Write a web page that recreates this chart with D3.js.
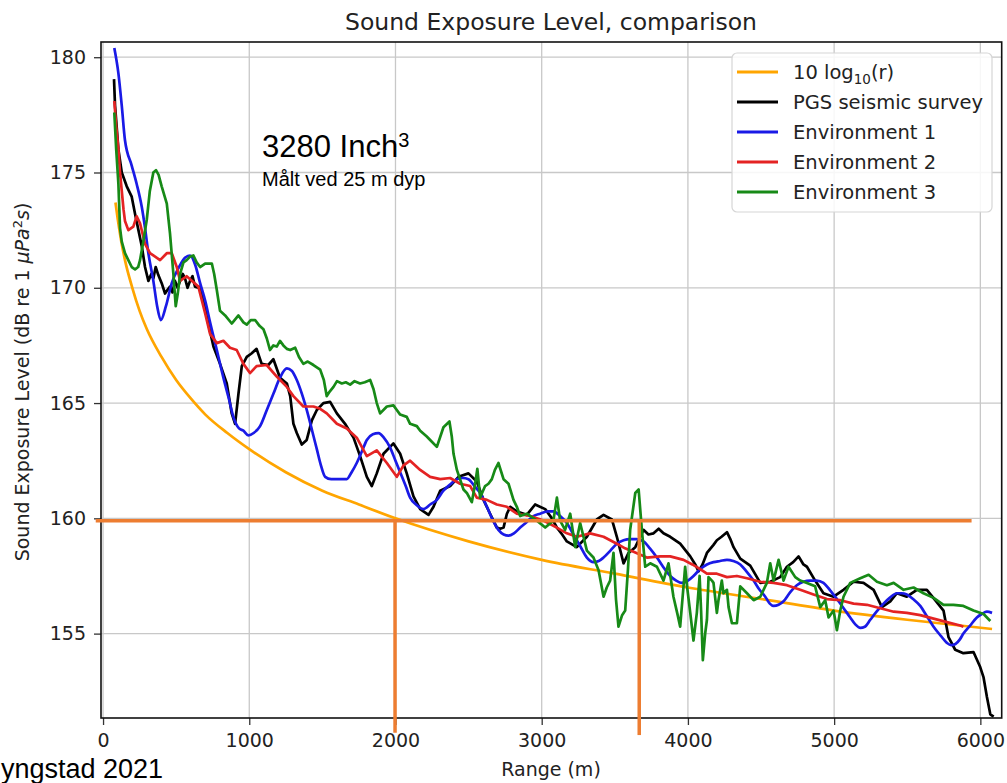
<!DOCTYPE html>
<html>
<head>
<meta charset="utf-8">
<script src="https://cdn.jsdelivr.net/npm/d3@7"></script>
<style>
    body { margin: 0; background: #fff; }
    svg { display: block; font-family: "DejaVu Sans", sans-serif; }
    .grid line { stroke: #c8c8c8; stroke-width: 1.3; }
    .axis path { display: none; }
    .axis line { stroke: #333; stroke-width: 1.3; }
    .axis text { fill: #222; font-size: 19px; font-family: "DejaVu Sans", sans-serif; }
    .line { fill: none; stroke-width: 2.7; stroke-linejoin: round; }
    .mark { stroke: #ED7D31; stroke-width: 3.5; }
</style>
</head>
<body>
<div id="graph"></div>
<script>
// ranges in m, levels in dB
var xTicks = [0, 1000, 2000, 3000, 4000, 5000, 6000];
var yTicks = [155, 160, 165, 170, 175, 180];

var seriesNames = ["10 log10(r)", "PGS seismic survey", "Environment 1", "Environment 2", "Environment 3"];

var logRange = [85, 100, 125, 150, 200, 250, 300, 400, 500, 600, 700, 850, 1000, 1250, 1500, 1750, 2000, 2500, 3000, 3500, 4000, 4500, 5000, 5500, 6080];
var logLevel = [173.7, 173.0, 172.0, 171.2, 170.0, 169.0, 168.2, 167.0, 166.0, 165.2, 164.5, 163.7, 163.0, 162.0, 161.2, 160.6, 160.0, 159.0, 158.2, 157.6, 157.0, 156.5, 156.0, 155.6, 155.2];

var pgsRange = [75, 82, 105, 128, 162, 196, 219, 242, 265, 287, 310, 330, 344, 360, 378, 401, 424, 440, 458, 475, 492, 510, 527, 545, 561, 578, 595, 612, 629, 652, 664, 709, 755, 800, 846, 880, 903, 926, 949, 983, 1015, 1050, 1085, 1130, 1165, 1210, 1257, 1280, 1302, 1325, 1359, 1393, 1428, 1462, 1507, 1553, 1599, 1655, 1713, 1758, 1804, 1838, 1872, 1918, 1986, 2032, 2077, 2123, 2169, 2226, 2260, 2306, 2374, 2431, 2499, 2556, 2602, 2647, 2693, 2716, 2739, 2762, 2785, 2830, 2898, 2955, 3024, 3070, 3104, 3140, 3172, 3240, 3309, 3377, 3423, 3480, 3514, 3560, 3594, 3640, 3696, 3730, 3765, 3800, 3833, 3879, 3947, 4016, 4050, 4073, 4100, 4130, 4175, 4198, 4230, 4267, 4290, 4312, 4358, 4426, 4495, 4563, 4631, 4677, 4720, 4757, 4790, 4814, 4870, 4927, 4996, 5064, 5133, 5201, 5270, 5327, 5384, 5429, 5497, 5566, 5634, 5691, 5748, 5782, 5828, 5884, 5953, 5999, 6022, 6045, 6068, 6091];
var pgsLevel = [179.05, 177.9, 176.0, 175.0, 174.4, 173.95, 173.2, 172.5, 171.8, 170.9, 170.3, 170.6, 170.4, 170.9, 170.55, 170.2, 169.75, 169.9, 170.05, 169.8, 170.3, 170.0, 170.3, 170.6, 170.4, 170.0, 170.3, 170.5, 170.05, 170.0, 170.05, 168.75, 167.45, 166.7, 165.85, 164.55, 164.1, 165.4, 166.6, 167.0, 167.15, 167.35, 166.7, 166.65, 166.9, 166.1, 165.85, 165.3, 164.1, 163.7, 163.2, 163.4, 164.25, 164.7, 165.0, 165.05, 164.55, 164.1, 163.5, 162.7, 161.8, 161.4, 161.95, 162.8, 163.25, 162.8, 161.95, 160.95, 160.4, 160.15, 160.5, 161.2, 161.4, 161.8, 161.95, 161.6, 160.8, 160.2, 159.6, 159.55, 159.6, 160.2, 160.5, 160.3, 160.15, 160.6, 160.4, 160.0, 159.6, 159.3, 159.0, 158.75, 159.2, 159.95, 160.15, 159.95, 159.2, 158.05, 158.5, 158.75, 159.5, 159.3, 159.35, 159.55, 159.35, 159.2, 158.9, 158.35, 158.0, 157.7, 158.0, 158.5, 158.85, 159.05, 159.2, 159.4, 159.1, 158.75, 158.25, 157.95, 157.2, 157.25, 157.45, 157.9, 158.1, 158.35, 158.0, 157.9, 157.3, 156.75, 156.6, 156.9, 157.25, 157.2, 156.9, 156.15, 156.4, 156.75, 156.6, 156.9, 156.9, 156.45, 156.0, 154.85, 154.3, 154.15, 154.2, 153.55, 153.1, 152.25, 151.5, 151.4];

var env1Range = [77, 105, 128, 150, 196, 230, 265, 287, 310, 344, 370, 395, 430, 470, 520, 560, 595, 630, 664, 700, 732, 778, 823, 860, 891, 930, 960, 994, 1030, 1074, 1120, 1165, 1210, 1257, 1290, 1325, 1360, 1393, 1430, 1462, 1490, 1519, 1560, 1599, 1640, 1667, 1700, 1735, 1770, 1804, 1845, 1884, 1920, 1961, 2000, 2032, 2070, 2100, 2140, 2191, 2237, 2283, 2328, 2380, 2420, 2460, 2499, 2540, 2579, 2625, 2660, 2704, 2740, 2773, 2810, 2853, 2900, 2944, 2990, 3040, 3080, 3126, 3172, 3217, 3263, 3309, 3354, 3390, 3423, 3470, 3514, 3560, 3605, 3650, 3696, 3740, 3788, 3830, 3879, 3920, 3959, 4000, 4038, 4084, 4130, 4175, 4220, 4267, 4310, 4358, 4400, 4449, 4490, 4529, 4560, 4586, 4620, 4654, 4700, 4745, 4790, 4836, 4880, 4927, 4970, 5019, 5065, 5110, 5145, 5179, 5210, 5247, 5290, 5338, 5380, 5429, 5460, 5497, 5540, 5589, 5630, 5680, 5730, 5771, 5800, 5830, 5860, 5884, 5930, 5976, 6010, 6045, 6080];
var env1Level = [180.4, 179.3, 177.9, 176.4, 175.3, 174.5, 173.5, 172.6, 171.5, 170.3, 169.2, 168.6, 169.2, 170.2, 170.9, 171.3, 171.4, 171.0, 170.2, 169.4, 168.5, 167.3, 166.1, 165.2, 164.4, 163.9, 163.8, 163.6, 163.7, 164.0, 164.7, 165.4, 166.1, 166.5, 166.4, 166.0, 165.4, 164.7, 163.8, 163.0, 162.3, 161.8, 161.7, 161.7, 161.7, 161.7, 162.0, 162.4, 162.9, 163.4, 163.65, 163.7, 163.5, 163.1, 162.5, 162.0, 161.4, 160.9, 160.6, 160.4, 160.6, 160.8, 161.2, 161.5, 161.7, 161.75, 161.7, 161.4, 161.1, 160.5, 160.0, 159.5, 159.3, 159.25, 159.35, 159.6, 159.85, 160.1, 160.2, 160.3, 160.3, 160.1, 159.8, 159.3, 158.8, 158.3, 158.1, 158.15, 158.3, 158.6, 158.9, 159.05, 159.1, 159.1, 159.0, 158.7, 158.3, 157.9, 157.5, 157.3, 157.2, 157.3, 157.5, 157.8, 158.0, 158.1, 158.15, 158.2, 158.15, 158.0, 157.7, 157.3, 156.9, 156.6, 156.3, 156.2, 156.25, 156.4, 156.8, 157.1, 157.25, 157.3, 157.3, 157.2, 156.9, 156.5, 156.1, 155.7, 155.4, 155.25, 155.3, 155.6, 155.95, 156.3, 156.55, 156.75, 156.75, 156.7, 156.5, 156.2, 155.8, 155.3, 154.9, 154.6, 154.5, 154.55, 154.75, 155.0, 155.35, 155.7, 155.85, 155.95, 155.9];

var env2Range = [77, 90, 105, 116, 128, 140, 150, 173, 207, 230, 253, 287, 321, 356, 390, 436, 470, 504, 527, 572, 607, 652, 698, 732, 778, 823, 868, 914, 960, 1005, 1050, 1119, 1188, 1257, 1302, 1370, 1439, 1485, 1530, 1599, 1667, 1735, 1804, 1872, 1941, 2009, 2055, 2100, 2169, 2237, 2306, 2374, 2442, 2511, 2556, 2625, 2693, 2762, 2830, 2921, 3012, 3103, 3172, 3240, 3331, 3423, 3514, 3570, 3628, 3719, 3810, 3879, 3970, 4030, 4084, 4130, 4198, 4267, 4335, 4404, 4495, 4586, 4677, 4768, 4859, 4951, 5042, 5133, 5224, 5316, 5407, 5497, 5589, 5680, 5771, 5862, 5884];
var env2Level = [178.1, 177.0, 176.0, 175.0, 174.2, 173.4, 172.9, 172.5, 172.65, 173.1, 172.8, 171.9, 171.5, 171.35, 171.2, 171.5, 171.5, 170.9, 170.3, 170.5, 170.3, 170.05, 168.9, 168.0, 167.6, 167.7, 167.4, 167.3, 166.7, 166.3, 166.6, 166.65, 166.15, 165.7, 165.3, 164.85, 164.85, 164.75, 164.55, 164.1, 163.9, 163.5, 162.7, 162.95, 162.4, 161.8, 162.3, 162.5, 162.1, 161.8, 161.7, 161.75, 161.5, 161.4, 160.9, 160.8, 160.6, 160.5, 160.2, 160.1, 159.9, 159.6, 159.35, 159.2, 159.35, 159.2, 158.9, 158.7, 158.55, 158.3, 158.35, 158.35, 158.2, 158.0, 157.8, 157.6, 157.6, 157.45, 157.5, 157.4, 157.25, 157.2, 157.1, 156.9, 156.7, 156.5, 156.45, 156.3, 156.25, 156.1, 155.95, 155.9, 155.8, 155.65, 155.5, 155.35, 155.3];

var env3Range = [77, 90, 105, 116, 128, 150, 173, 196, 219, 240, 253, 275, 299, 320, 344, 362, 380, 401, 436, 458, 481, 497, 511, 527, 550, 572, 595, 618, 640, 664, 698, 744, 760, 778, 800, 835, 880, 926, 960, 983, 1010, 1040, 1070, 1097, 1120, 1142, 1165, 1188, 1210, 1233, 1257, 1280, 1314, 1340, 1370, 1400, 1439, 1485, 1510, 1530, 1550, 1576, 1600, 1633, 1660, 1690, 1720, 1758, 1790, 1827, 1850, 1872, 1895, 1941, 1986, 2009, 2032, 2077, 2100, 2146, 2169, 2214, 2237, 2283, 2328, 2369, 2385, 2397, 2420, 2465, 2488, 2522, 2545, 2560, 2579, 2613, 2636, 2659, 2680, 2704, 2739, 2773, 2807, 2830, 2853, 2898, 2967, 3024, 3080, 3104, 3126, 3160, 3195, 3229, 3263, 3309, 3354, 3389, 3423, 3445, 3468, 3491, 3508, 3525, 3550, 3571, 3590, 3605, 3640, 3663, 3685, 3708, 3742, 3788, 3833, 3867, 3901, 3930, 3947, 3981, 3995, 4016, 4038, 4061, 4080, 4090, 4102, 4118, 4130, 4141, 4164, 4175, 4198, 4209, 4232, 4243, 4267, 4278, 4301, 4335, 4358, 4404, 4449, 4495, 4540, 4563, 4586, 4620, 4654, 4688, 4734, 4768, 4814, 4870, 4905, 4939, 4962, 4996, 5019, 5042, 5064, 5110, 5179, 5236, 5293, 5361, 5407, 5475, 5543, 5611, 5680, 5748, 5816, 5884, 5953, 6022, 6068];
var env3Level = [177.6, 176.0, 174.5, 172.6, 172.0, 171.5, 171.2, 170.9, 170.8, 170.9, 171.2, 172.0, 172.95, 174.2, 175.0, 175.1, 174.9, 174.4, 173.65, 172.35, 170.6, 169.2, 169.75, 170.6, 171.1, 171.2, 171.35, 171.4, 171.1, 170.9, 171.05, 171.05, 170.6, 169.9, 169.0, 168.8, 168.45, 168.8, 168.5, 168.4, 168.6, 168.6, 168.35, 168.2, 167.8, 167.3, 167.5, 167.45, 167.7, 167.5, 167.35, 167.3, 167.4, 167.0, 166.7, 166.8, 166.65, 166.45, 166.0, 165.3, 165.5, 165.7, 165.95, 165.85, 165.9, 165.8, 165.95, 165.85, 165.9, 166.0, 165.6, 165.0, 164.55, 164.85, 164.9, 164.7, 164.5, 164.4, 164.1, 164.0, 163.8, 163.55, 163.4, 163.1, 163.95, 164.2, 163.55, 162.8, 162.1, 161.25, 161.1, 160.7, 161.5, 162.15, 160.9, 161.4, 161.5, 161.7, 162.1, 162.4, 161.7, 161.5, 160.8, 160.5, 160.1, 160.2, 159.9, 159.6, 159.9, 160.9, 159.9, 159.5, 160.2, 158.75, 159.8, 158.6, 158.3, 157.75, 156.6, 157.0, 157.3, 158.5, 156.5, 155.3, 155.8, 156.0, 157.8, 159.5, 161.1, 161.25, 159.5, 157.9, 158.05, 157.9, 157.3, 158.05, 156.6, 155.8, 155.3, 157.9, 157.0, 155.9, 154.7, 155.9, 157.5, 156.0, 153.85, 155.0, 155.6, 157.45, 157.3, 157.2, 155.9, 156.45, 157.3, 156.75, 156.9, 156.15, 155.45, 155.45, 157.05, 156.75, 156.45, 156.6, 157.2, 158.05, 157.3, 158.2, 157.3, 157.9, 157.45, 157.3, 157.2, 157.05, 156.15, 156.45, 155.7, 156.0, 155.15, 156.0, 156.6, 157.2, 157.4, 157.55, 157.25, 157.1, 157.2, 156.9, 157.0, 156.75, 156.55, 156.25, 156.25, 156.2, 156.0, 155.85, 155.55];

// hand drawn orange marks on the figure
var markLevel = 159.9;
var markRanges = [1997, 3667];

var graph = (function () {
    var svg = d3.select("#graph").append("svg")
            .attr("width", 1007)
            .attr("height", 783),
        plot = {left: 101, right: 1001.7, top: 42, bottom: 718};

    var x = d3.scaleLinear().domain([-14, 6146]).range([plot.left, plot.right]);
    var y = d3.scaleLinear().domain([151.34, 180.66]).range([plot.bottom, plot.top]);

    var colors = ["#FFA500", "#000000", "#1a1ae6", "#e42323", "#178a17"];

    function toPoints(r, v) {
        return r.map(function (d, i) {
            return {x: d, y: v[i]};
        });
    }

    function create() {
        // grid
        var grid = svg.append("g").attr("class", "grid");
        grid.selectAll("line.gx")
            .data(xTicks).enter().append("line")
            .attr("x1", function (d) { return x(d); })
            .attr("x2", function (d) { return x(d); })
            .attr("y1", plot.top)
            .attr("y2", plot.bottom);
        grid.selectAll("line.gy")
            .data(yTicks).enter().append("line")
            .attr("y1", function (d) { return y(d); })
            .attr("y2", function (d) { return y(d); })
            .attr("x1", plot.left)
            .attr("x2", plot.right);

        // axes
        svg.append("g")
            .attr("class", "x axis")
            .attr("transform", "translate(0," + plot.bottom + ")")
            .call(d3.axisBottom(x).tickValues(xTicks).tickSize(7).tickPadding(9).tickFormat(d3.format("d")));

        svg.append("g")
            .attr("class", "y axis")
            .attr("transform", "translate(" + plot.left + ",0)")
            .call(d3.axisLeft(y).tickValues(yTicks).tickSize(7).tickPadding(8).tickFormat(d3.format("d")));

        // curves
        svg.append("clipPath").attr("id", "clip")
            .append("rect")
            .attr("x", plot.left).attr("y", plot.top)
            .attr("width", plot.right - plot.left)
            .attr("height", plot.bottom - plot.top);

        var smooth = d3.line()
            .x(function (d) { return x(d.x); })
            .y(function (d) { return y(d.y); })
            .curve(d3.curveMonotoneX);

        var rough = d3.line()
            .x(function (d) { return x(d.x); })
            .y(function (d) { return y(d.y); })
            .curve(d3.curveLinear);

        var lines = svg.append("g").attr("clip-path", "url(#clip)");
        lines.append("path").attr("class", "line").attr("stroke", colors[0])
            .attr("d", smooth(toPoints(logRange, logLevel)));
        lines.append("path").attr("class", "line").attr("stroke", colors[1])
            .attr("d", rough(toPoints(pgsRange, pgsLevel)));
        lines.append("path").attr("class", "line").attr("stroke", colors[2])
            .attr("d", smooth(toPoints(env1Range, env1Level)));
        lines.append("path").attr("class", "line").attr("stroke", colors[3])
            .attr("d", rough(toPoints(env2Range, env2Level)));
        lines.append("path").attr("class", "line").attr("stroke", colors[4])
            .attr("d", rough(toPoints(env3Range, env3Level)));

        // frame
        svg.append("rect")
            .attr("x", plot.left).attr("y", plot.top)
            .attr("width", plot.right - plot.left)
            .attr("height", plot.bottom - plot.top)
            .attr("fill", "none")
            .attr("stroke", "#111")
            .attr("stroke-width", 1.6);

        // legend
        var legend = svg.append("g").attr("transform", "translate(732,53)");
        legend.append("rect")
            .attr("width", 260).attr("height", 159)
            .attr("rx", 5)
            .attr("fill", "#fff").attr("fill-opacity", 0.85)
            .attr("stroke", "#d6d6d6").attr("stroke-width", 1.2);

        var rows = legend.selectAll("g.row")
            .data(seriesNames).enter().append("g")
            .attr("transform", function (d, i) { return "translate(0," + (19 + i * 30) + ")"; });
        rows.append("line")
            .attr("x1", 5).attr("x2", 46)
            .attr("stroke", function (d, i) { return colors[i]; })
            .attr("stroke-width", 2.8);
        rows.append("text")
            .attr("x", 61).attr("y", 7)
            .style("font-size", "19.5px")
            .attr("fill", "#222")
            .each(function (d) {
                var t = d3.select(this);
                if (d === "10 log10(r)") {
                    t.append("tspan").text("10 log");
                    t.append("tspan").attr("dy", 5).style("font-size", "13.5px").text("10");
                    t.append("tspan").attr("dy", -5).text("(r)");
                } else {
                    t.text(d);
                }
            });

        // titles
        svg.append("text")
            .attr("x", 551).attr("y", 30)
            .attr("text-anchor", "middle")
            .style("font-size", "23.5px")
            .attr("fill", "#222")
            .text("Sound Exposure Level, comparison");

        svg.append("text")
            .attr("x", 551).attr("y", 776)
            .attr("text-anchor", "middle")
            .style("font-size", "19px")
            .attr("fill", "#222")
            .text("Range (m)");

        var ylab = svg.append("text")
            .attr("transform", "translate(29,382) rotate(-90)")
            .attr("text-anchor", "middle")
            .style("font-size", "19px")
            .attr("fill", "#222");
        ylab.append("tspan").text("Sound Exposure Level (dB re 1 ");
        ylab.append("tspan").style("font-style", "italic").text("\u03bcPa");
        ylab.append("tspan").attr("dy", -7).style("font-size", "13px").text("2");
        ylab.append("tspan").attr("dy", 7).style("font-style", "italic").text("s");
        ylab.append("tspan").text(")");

        // annotation
        var note = svg.append("text")
            .attr("x", 262).attr("y", 157)
            .style("font-family", "'Liberation Sans', Arial, sans-serif")
            .style("font-size", "31px")
            .attr("fill", "#000");
        note.append("tspan").text("3280 Inch");
        note.append("tspan").attr("dy", -10).style("font-size", "20px").text("3");

        svg.append("text")
            .attr("x", 262).attr("y", 186)
            .style("font-family", "'Liberation Sans', Arial, sans-serif")
            .style("font-size", "20px")
            .attr("fill", "#000")
            .text("M\u00e5lt ved 25 m dyp");

        svg.append("text")
            .attr("x", 1).attr("y", 777.5)
            .style("font-family", "'Liberation Sans', Arial, sans-serif")
            .style("font-size", "27px")
            .attr("fill", "#000")
            .text("yngstad 2021");

        // orange marks
        svg.append("line").attr("class", "mark")
            .attr("x1", x(-50)).attr("x2", x(5940))
            .attr("y1", y(markLevel)).attr("y2", y(markLevel));
        svg.selectAll("line.vmark")
            .data(markRanges).enter().append("line")
            .attr("class", "mark")
            .attr("x1", function (d) { return x(d); })
            .attr("x2", function (d) { return x(d); })
            .attr("y1", y(markLevel))
            .attr("y2", function (d, i) { return y(150.7 - i * 0.1); });
    }

    return {create: create};
})();

graph.create();
</script>
</body>
</html>
